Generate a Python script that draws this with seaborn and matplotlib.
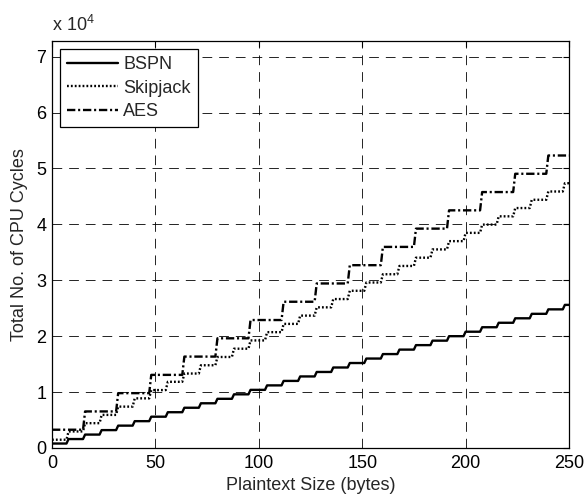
import numpy as np
import pandas as pd
import matplotlib
matplotlib.use("Agg")
import matplotlib.pyplot as plt
import seaborn as sns
from matplotlib.ticker import FuncFormatter

# ---- data (CPU cycles per level, plaintext in bytes) ----
x_max = 250
bspn_block = 8
skipjack_block = 8
aes_block = 16
bspn_levels = [800, 1600, 2400, 3200, 4000, 4800, 5600, 6400, 7200, 8000,
               8800, 9600, 10400, 11200, 12000, 12800, 13600, 14400, 15200, 16000,
               16800, 17600, 18400, 19200, 20000, 20800, 21600, 22400, 23200, 24000,
               24800, 25600]
skipjack_levels = [1480, 2960, 4440, 5920, 7400, 8880, 10360, 11840, 13320, 14800,
                   16280, 17760, 19240, 20720, 22200, 23680, 25160, 26640, 28120, 29600,
                   31080, 32560, 34040, 35520, 37000, 38480, 39960, 41440, 42920, 44400,
                   45880, 47360]
aes_levels = [3270, 6540, 9810, 13080, 16350, 19620, 22890, 26160, 29430, 32700,
              35970, 39240, 42510, 45780, 49050, 52320]
x_ticks = [0, 50, 100, 150, 200, 250]
y_ticks = [0, 1, 2, 3, 4, 5, 6, 7]

def build(name, levels, block):
    xs, ys = [], []
    for i, lv in enumerate(levels):
        x0 = i * block
        x1 = min(x0 + block - 1, x_max)
        if i == len(levels) - 1:
            x1 = x_max
        xs += [x0, x1]
        ys += [lv, lv]
    return pd.DataFrame({"x": xs, "y": ys, "alg": name})

df = pd.concat([build("BSPN", bspn_levels, bspn_block),
                build("Skipjack", skipjack_levels, skipjack_block),
                build("AES", aes_levels, aes_block)], ignore_index=True)

sns.set_style("white")
plt.rcParams["font.family"] = ["Liberation Sans", "DejaVu Sans"]
plt.rcParams["mathtext.fontset"] = "custom"
plt.rcParams["mathtext.rm"] = "Liberation Sans"
plt.rcParams["lines.scale_dashes"] = False

FS = 13

fig = plt.figure(figsize=(5.87, 4.96), dpi=100)
ax = fig.add_axes([52 / 587, 1 - 448 / 496, (569 - 52) / 587, (448 - 41) / 496])

sns.lineplot(data=df, x="x", y="y", hue="alg", style="alg",
             palette={"BSPN": "black", "Skipjack": "black", "AES": "black"},
             dashes={"BSPN": "", "Skipjack": (1.3, 1.5), "AES": (6.0, 2.0, 1.5, 2.0)},
             estimator=None, sort=False, linewidth=1.7, ax=ax)

ax.set_xlim(0, x_max)
ax.set_ylim(0, 7.28e4)
ax.set_xticks(x_ticks)
ax.set_yticks([v * 1e4 for v in y_ticks])
ax.yaxis.set_major_formatter(FuncFormatter(lambda v, p: f"{v / 1e4:g}"))
ax.grid(True, color="black", linestyle=(0, (7.0, 5.0)), linewidth=0.6)
ax.set_axisbelow(True)
ax.tick_params(direction="in", length=4, width=0.8, top=True, right=True,
               labelsize=FS, colors="black")
ax.tick_params(axis="x", pad=5)
ax.tick_params(axis="y", pad=4)
for s in ax.spines.values():
    s.set_color("black")
    s.set_linewidth(0.9)

ax.set_xlabel("Plaintext Size (bytes)", fontsize=FS, labelpad=4)
ax.set_ylabel("Total No. of CPU Cycles", fontsize=FS, labelpad=6)
ax.text(0.0, 1.015, r"x 10$^{4}$", transform=ax.transAxes, fontsize=FS,
        ha="left", va="bottom")

leg = ax.legend(loc="upper left", fontsize=FS, handlelength=2.8,
                handletextpad=0.3, labelspacing=0.35, borderpad=0.4,
                borderaxespad=0.45, fancybox=False, framealpha=1,
                edgecolor="black", title=None)
leg.get_frame().set_linewidth(0.9)
for line in leg.get_lines():
    line.set_linewidth(1.7)

fig.savefig("out.png", dpi=100)
